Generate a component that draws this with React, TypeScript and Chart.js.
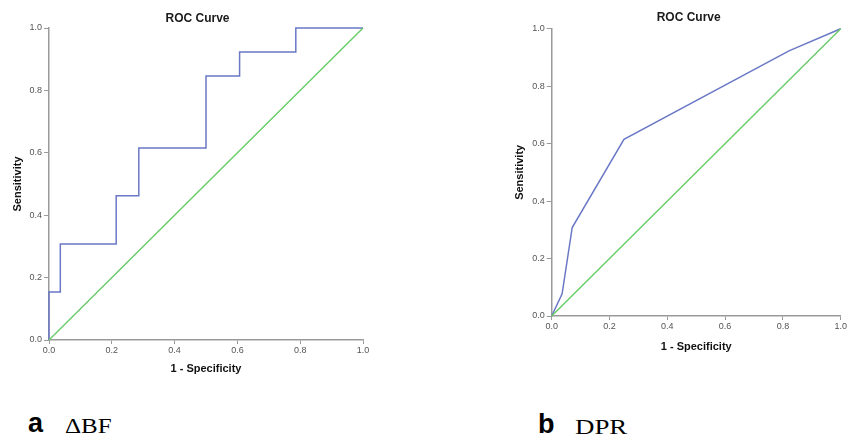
import React, { useEffect, useRef } from "react";
import { Chart, registerables } from "chart.js";

Chart.register(...registerables);

// ---- data ----
const axisTicks = [0, 0.2, 0.4, 0.6, 0.8, 1.0];

// Panel a: ΔBF (stepped ROC)
const bfFpr = [0, 0, 0.036, 0.036, 0.214, 0.214, 0.286, 0.286, 0.5, 0.5, 0.607, 0.607, 0.786, 0.786, 1.0];
const bfTpr = [0, 0.154, 0.154, 0.308, 0.308, 0.462, 0.462, 0.615, 0.615, 0.846, 0.846, 0.923, 0.923, 1.0, 1.0];

// Panel b: DPR
const dprFpr = [0, 0.036, 0.071, 0.25, 0.821, 1.0];
const dprTpr = [0, 0.077, 0.308, 0.615, 0.923, 1.0];

// Reference diagonal
const refFpr = [0, 1];
const refTpr = [0, 1];

const chartTitle = "ROC Curve";
const xTitle = "1 - Specificity";
const yTitle = "Sensitivity";

const SANS = '"Liberation Sans", Arial, sans-serif';
const SERIF = '"Liberation Serif", "Times New Roman", serif';
const BLUE = "#6a78c6";
const GREEN = "#66cc66";
const AXIS = "#9a9a9a";

const titlePlugin = {
  id: "rocTitle",
  afterDraw(chart: any, _args: any, opts: any) {
    const { ctx, chartArea } = chart;
    ctx.save();
    ctx.font = `bold 12px ${SANS}`;
    ctx.fillStyle = "#1a1a1a";
    ctx.textAlign = "center";
    ctx.textBaseline = "middle";
    ctx.fillText(opts.text, (chartArea.left + chartArea.right) / 2 + opts.dx, opts.y);
    ctx.restore();
  },
};

type Geo = {
  left: number;
  width: number;
  height: number;
  yWidth: number;
  xHeight: number;
  padTop: number;
  padRight: number;
  yTitlePad: number;
  xTitlePad: number;
  xTickPad: number;
  titleDx: number;
  titleY: number;
};

function RocChart({ geo, fpr, tpr }: { geo: Geo; fpr: number[]; tpr: number[] }) {
  const ref = useRef<HTMLCanvasElement | null>(null);
  useEffect(() => {
    if (!ref.current) return;
    const pts = (xs: number[], ys: number[]) => xs.map((x, i) => ({ x, y: ys[i] }));
    const tickCfg = {
      color: "#555",
      font: { family: SANS, size: 9 },
      callback: (v: any) => Number(v).toFixed(1),
    };
    const chart = new Chart(ref.current, {
      type: "scatter",
      data: {
        datasets: [
          {
            data: pts(refFpr, refTpr),
            showLine: true,
            borderColor: GREEN,
            borderWidth: 1.4,
            pointRadius: 0,
            clip: 4,
          } as any,
          {
            data: pts(fpr, tpr),
            showLine: true,
            borderColor: BLUE,
            borderWidth: 1.5,
            pointRadius: 0,
            clip: 4,
          } as any,
        ],
      },
      options: {
        animation: false,
        responsive: false,
        events: [],
        layout: { padding: { top: geo.padTop, right: geo.padRight, left: 0, bottom: 0 } },
        plugins: {
          legend: { display: false },
          tooltip: { enabled: false },
          title: { display: false },
          rocTitle: { text: chartTitle, dx: geo.titleDx, y: geo.titleY },
        } as any,
        scales: {
          x: {
            type: "linear",
            min: 0,
            max: 1,
            afterBuildTicks: (s: any) => {
              s.ticks = axisTicks.map((v) => ({ value: v }));
            },
            afterFit: (s: any) => {
              s.height = geo.xHeight;
            },
            ticks: { ...tickCfg, padding: geo.xTickPad, maxRotation: 0 },
            grid: { drawOnChartArea: false, drawTicks: true, tickLength: 4, color: AXIS, lineWidth: 1 },
            border: { display: true, color: AXIS, width: 1.5 },
            title: {
              display: true,
              text: xTitle,
              color: "#111",
              font: { family: SANS, size: 11, weight: "bold" },
              padding: { top: 0, bottom: geo.xTitlePad },
            },
          },
          y: {
            type: "linear",
            min: 0,
            max: 1,
            afterBuildTicks: (s: any) => {
              s.ticks = axisTicks.map((v) => ({ value: v }));
            },
            afterFit: (s: any) => {
              s.width = geo.yWidth;
            },
            ticks: { ...tickCfg, padding: 2 },
            grid: { drawOnChartArea: false, drawTicks: true, tickLength: 5, color: AXIS, lineWidth: 1 },
            border: { display: true, color: AXIS, width: 1.5 },
            title: {
              display: true,
              text: yTitle,
              color: "#111",
              font: { family: SANS, size: 11, weight: "bold" },
              padding: { top: geo.yTitlePad, bottom: 0 },
            },
          },
        },
      },
      plugins: [titlePlugin as any],
    } as any);
    return () => chart.destroy();
  }, []);
  return (
    <canvas
      ref={ref}
      width={geo.width}
      height={geo.height}
      style={{ position: "absolute", left: geo.left, top: 0, width: geo.width, height: geo.height }}
    />
  );
}

const geoA: Geo = {
  left: 0,
  width: 380,
  height: 385,
  yWidth: 49,
  xHeight: 45,
  padTop: 28,
  padRight: 17,
  yTitlePad: 11,
  xTitlePad: 9.4,
  xTickPad: 1,
  titleDx: -8.5,
  titleY: 19,
};

const geoB: Geo = {
  left: 500,
  width: 351,
  height: 360,
  yWidth: 51.7,
  xHeight: 44,
  padTop: 28.7,
  padRight: 10.3,
  yTitlePad: 13.4,
  xTitlePad: 6.4,
  xTickPad: 1.3,
  titleDx: -7.5,
  titleY: 18,
};

const letterStyle = (left: number, top: number): React.CSSProperties => ({
  position: "absolute",
  left,
  top,
  fontFamily: SANS,
  fontWeight: "bold",
  fontSize: 27,
  lineHeight: "27px",
  color: "#000",
  whiteSpace: "nowrap",
});

const nameStyle = (left: number, top: number, size: number, sx: number): React.CSSProperties => ({
  position: "absolute",
  left,
  top,
  fontFamily: SERIF,
  fontSize: size,
  lineHeight: `${size}px`,
  color: "#000",
  whiteSpace: "nowrap",
  transform: `scaleX(${sx})`,
  transformOrigin: "left top",
});

export default function App() {
  return (
    <div
      style={{
        position: "absolute",
        left: 0,
        top: 0,
        width: 851,
        height: 440,
        background: "#fff",
        overflow: "hidden",
      }}
    >
      <RocChart geo={geoA} fpr={bfFpr} tpr={bfTpr} />
      <RocChart geo={geoB} fpr={dprFpr} tpr={dprTpr} />
      <span style={letterStyle(28, 410)}>a</span>
      <span style={nameStyle(65, 416, 20, 1.25)}>ΔBF</span>
      <span style={letterStyle(538, 411)}>b</span>
      <span style={nameStyle(575, 417, 21, 1.28)}>DPR</span>
    </div>
  );
}
